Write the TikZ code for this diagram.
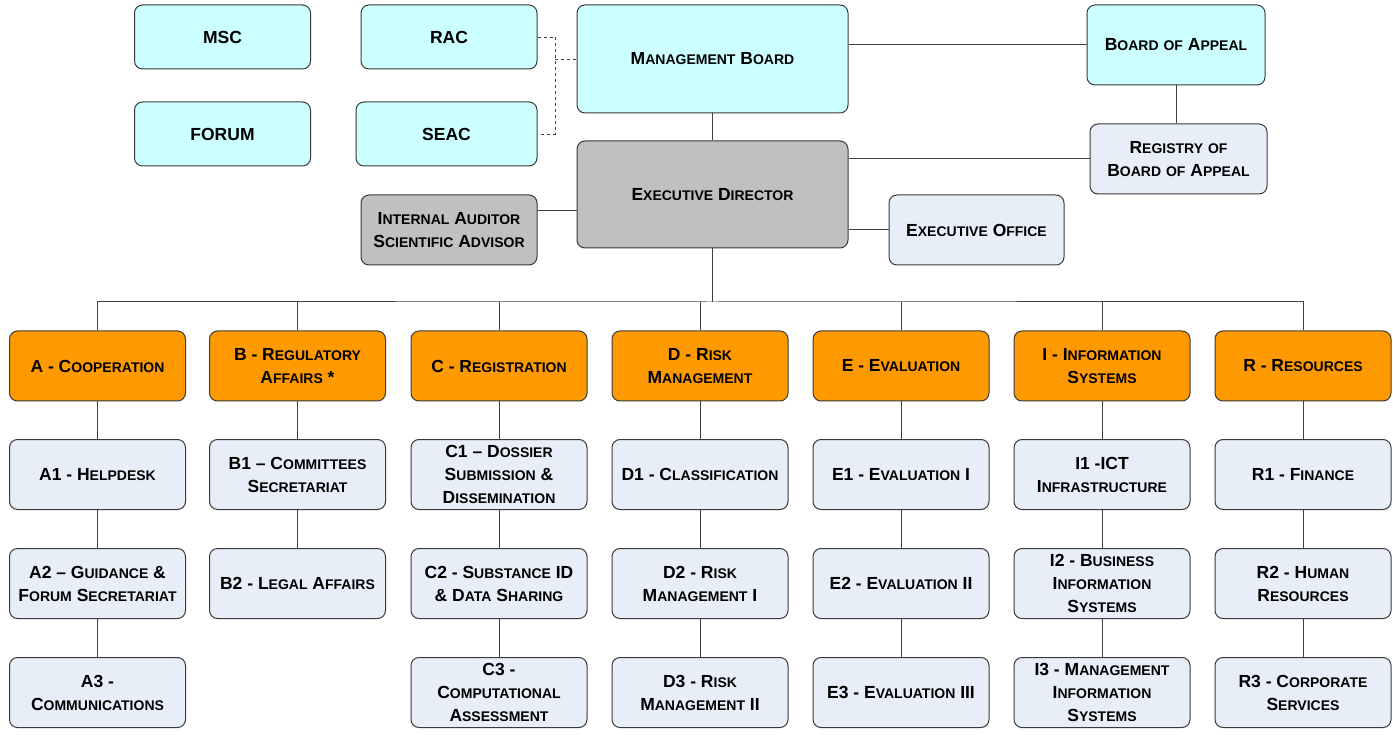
\documentclass[tikz,border=0pt]{standalone}
\usepackage{fontspec}
\setmainfont{Liberation Sans}
\usepackage{xcolor}
\usepackage{tikz}
\usetikzlibrary{positioning}

\definecolor{boardcyan}{HTML}{CCFFFF}
\definecolor{directgrey}{HTML}{C0C0C0}
\definecolor{deptorange}{HTML}{FF9900}
\definecolor{unitblue}{HTML}{E8EEF8}
\definecolor{edgegrey}{HTML}{3A3A3A}

% fake small caps: first letter full size, the rest smaller capitals
\newcommand\smup[1]{{\fontsize{14}{23}\selectfont\uppercase{#1}}}
\newcommand\smcap[1]{\smcapsplit#1\relax}
\def\smcapsplit#1#2\relax{#1\smup{#2}}

\tikzset{
  orgbox/.style={draw=edgegrey,line width=1pt,rounded corners=8pt,align=center,inner sep=2pt,
    font=\fontsize{17.5}{23}\selectfont\bfseries,minimum width=176pt,minimum height=70pt},
  board/.style={orgbox,fill=boardcyan,minimum height=64pt},
  office/.style={orgbox,fill=directgrey},
  dept/.style={orgbox,fill=deptorange},
  unit/.style={orgbox,fill=unitblue},
  link/.style={draw=black!75,line width=1pt}
}

\begin{document}
\begin{tikzpicture}[x=1pt,y=-1pt]
  \useasboundingbox (0,0) rectangle (1393,735);
  % Top: committees and boards
  \node[board] (msc) at (222.5,37) {MSC};
  \node[board] (rac) at (449,37) {RAC};
  \node[board] (forum) at (222.5,134) {FORUM};
  \node[board,minimum width=181pt] (seac) at (446.5,134) {SEAC};
  \node[board,minimum width=271pt,minimum height=108pt] (mb) at (712.5,59) {\smcap{Management} \smcap{Board}};
  \node[board,minimum width=178pt,minimum height=80pt] (boa) at (1176,45) {\smcap{Board} \smup{of} \smcap{Appeal}};
  \node[unit,minimum width=177pt] (reg) at (1178.5,159) {\smcap{Registry} \smup{of}\\\smcap{Board} \smup{of} \smcap{Appeal}};
  % Director and offices
  \node[office,minimum width=271pt,minimum height=107pt] (ed) at (712.5,194.5) {\smcap{Executive} \smcap{Director}};
  \node[office] (ia) at (449,230) {\smcap{Internal} \smcap{Auditor}\\\smcap{Scientific} \smcap{Advisor}};
  \node[unit,minimum width=175pt] (eo) at (976.5,230) {\smcap{Executive} \smcap{Office}};
  % Departments
  \node[dept] (depA) at (97.5,366) {A - \smcap{Cooperation}};
  \node[dept] (depB) at (297.5,366) {B - \smcap{Regulatory}\\\smcap{Affairs} *};
  \node[dept] (depC) at (499,366) {C - \smcap{Registration}};
  \node[dept] (depD) at (700,366) {D - \smcap{Risk}\\\smcap{Management}};
  \node[dept] (depE) at (901,366) {E - \smcap{Evaluation}};
  \node[dept] (depI) at (1102,366) {I - \smcap{Information}\\\smcap{Systems}};
  \node[dept] (depR) at (1303,366) {R - \smcap{Resources}};
  % Units, row 1
  \node[unit] (a1) at (97.5,474.5) {A1 - \smcap{Helpdesk}};
  \node[unit] (b1) at (297.5,474.5) {B1 -- \smcap{Committees}\\\smcap{Secretariat}};
  \node[unit] (c1) at (499,474.5) {C1 -- \smcap{Dossier}\\\smcap{Submission} \&\\\smcap{Dissemination}};
  \node[unit] (d1) at (700,474.5) {D1 - \smcap{Classification}};
  \node[unit] (e1) at (901,474.5) {E1 - \smcap{Evaluation} I};
  \node[unit] (i1) at (1102,474.5) {I1 -ICT\\\smcap{Infrastructure}};
  \node[unit] (r1) at (1303,474.5) {R1 - \smcap{Finance}};
  % Units, row 2
  \node[unit] (a2) at (97.5,583.5) {A2 -- \smcap{Guidance} \&\\\smcap{Forum} \smcap{Secretariat}};
  \node[unit] (b2) at (297.5,583.5) {B2 - \smcap{Legal} \smcap{Affairs}};
  \node[unit] (c2) at (499,583.5) {C2 - \smcap{Substance} ID\\\& \smcap{Data} \smcap{Sharing}};
  \node[unit] (d2) at (700,583.5) {D2 - \smcap{Risk}\\\smcap{Management} I};
  \node[unit] (e2) at (901,583.5) {E2 - \smcap{Evaluation} II};
  \node[unit] (i2) at (1102,583.5) {I2 - \smcap{Business}\\\smcap{Information}\\\smcap{Systems}};
  \node[unit] (r2) at (1303,583.5) {R2 - \smcap{Human}\\\smcap{Resources}};
  % Units, row 3
  \node[unit] (a3) at (97.5,692.5) {A3 -\\\smcap{Communications}};
  \node[unit] (c3) at (499,692.5) {C3 -\\\smcap{Computational}\\\smcap{Assessment}};
  \node[unit] (d3) at (700,692.5) {D3 - \smcap{Risk}\\\smcap{Management} II};
  \node[unit] (e3) at (901,692.5) {E3 - \smcap{Evaluation} III};
  \node[unit] (i3) at (1102,692.5) {I3 - \smcap{Management}\\\smcap{Information}\\\smcap{Systems}};
  \node[unit] (r3) at (1303,692.5) {R3 - \smcap{Corporate}\\\smcap{Services}};

  % Top connectors
  \coordinate (dashjoin) at (555,59);
  \draw[link,dashed,line width=0.8pt] (rac.east) -| (dashjoin) |- (seac.east);
  \draw[link,dashed,line width=0.8pt] (dashjoin) -- (mb.west);
  \draw[link] (mb) -- (ed);
  \draw[link] (boa.west) -- (boa.west -| mb.east);
  \draw[link] (boa) -- (boa |- reg.north);
  \draw[link] (reg.west) -- (reg.west -| ed.east);
  \draw[link] (eo.west) -- (eo.west -| ed.east);
  \draw[link] ([yshift=19pt]ia.east) -- ([yshift=19pt]ia.east -| ed.west);
  % Bus to departments
  \coordinate (bus) at (712.5,302);
  \draw[link] (ed.south) -- (bus);
  \draw[link] (depA.north) |- (bus) -| (depR.north);
  \draw[link] (depB.north) -- (depB.north |- bus);
  \draw[link] (depC.north) -- (depC.north |- bus);
  \draw[link] (depD.north) -- (depD.north |- bus);
  \draw[link] (depE.north) -- (depE.north |- bus);
  \draw[link] (depI.north) -- (depI.north |- bus);
  % Department columns
  \draw[link] (depA) -- (a1) -- (a2) -- (a3);
  \draw[link] (depB) -- (b1) -- (b2);
  \draw[link] (depC) -- (c1) -- (c2) -- (c3);
  \draw[link] (depD) -- (d1) -- (d2) -- (d3);
  \draw[link] (depE) -- (e1) -- (e2) -- (e3);
  \draw[link] (depI) -- (i1) -- (i2) -- (i3);
  \draw[link] (depR) -- (r1) -- (r2) -- (r3);
\end{tikzpicture}
\end{document}
